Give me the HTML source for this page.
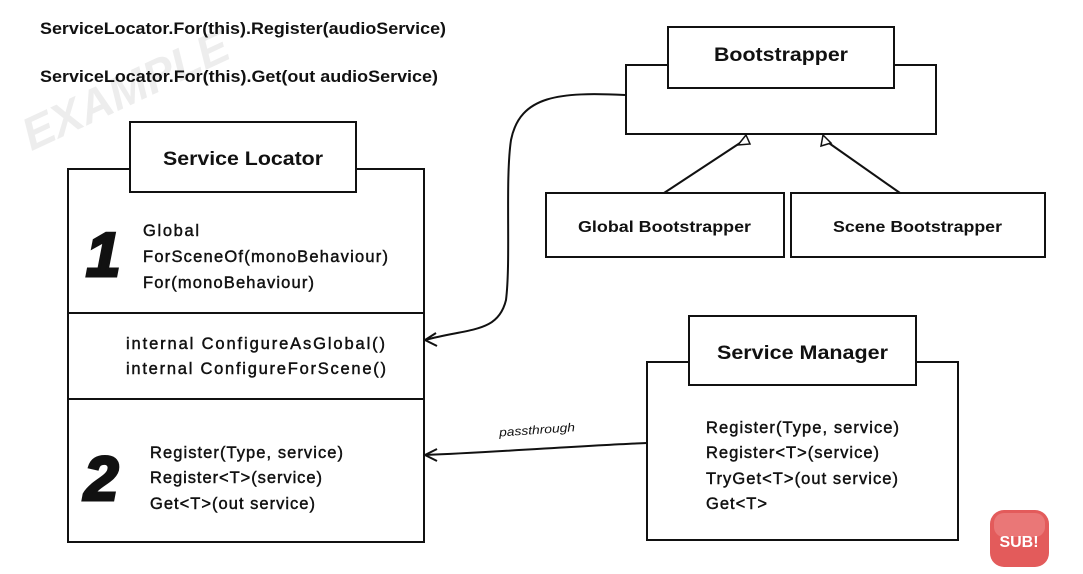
<!DOCTYPE html>
<html><head><meta charset="utf-8"><style>
html,body{margin:0;padding:0;background:#fff;width:1083px;height:574px;overflow:hidden}
svg{display:block}
text{font-family:"Liberation Sans",sans-serif;fill:#111}
.m{stroke:#111;stroke-width:0.45}
</style></head><body>
<svg width="1083" height="574" viewBox="0 0 1083 574" xmlns="http://www.w3.org/2000/svg">
<text x="10" y="125" font-size="46" font-weight="bold" font-style="italic" style="fill:#ededed" transform="rotate(-25 80 90)">EXAMPLE</text>
<text x="40" y="34" font-size="17" font-weight="bold" textLength="406" lengthAdjust="spacingAndGlyphs">ServiceLocator.For(this).Register(audioService)</text>
<text x="40" y="82" font-size="17" font-weight="bold" textLength="398" lengthAdjust="spacingAndGlyphs">ServiceLocator.For(this).Get(out audioService)</text>

<g fill="none" stroke="#111" stroke-width="2">
<rect x="68" y="169" width="356" height="373"/>
<line x1="68" y1="313" x2="424" y2="313"/>
<line x1="68" y1="399" x2="424" y2="399"/>
<rect x="130" y="122" width="226" height="70" fill="#fff"/>
<rect x="626" y="65" width="310" height="69"/>
<rect x="668" y="27" width="226" height="61" fill="#fff"/>
<rect x="546" y="193" width="238" height="64"/>
<rect x="791" y="193" width="254" height="64"/>
<rect x="647" y="362" width="311" height="178"/>
<rect x="689" y="316" width="227" height="69" fill="#fff"/>
<line x1="664" y1="193" x2="743" y2="141"/>
<line x1="900" y1="193" x2="826" y2="141"/>
<path d="M625,95 C560,92 520,95 511,140 C505,180 511,260 506,300 C498,333 470,328 425,340"/>
<path d="M436,333 L425,340 L437,346"/>
<path d="M647,443 C590,445 500,452 425,455"/>
<path d="M437,449 L425,455 L437,461"/>
</g>
<g fill="#fff" stroke="#111" stroke-width="1.5">
<path d="M746,135 L738,145 L750,144 Z"/>
<path d="M823,135 L821,146 L831,143 Z"/>
</g>

<g font-weight="bold">
<text x="163" y="165" font-size="19" textLength="160" lengthAdjust="spacingAndGlyphs">Service Locator</text>
<text x="714" y="61" font-size="19" textLength="134" lengthAdjust="spacingAndGlyphs">Bootstrapper</text>
<text x="578" y="232" font-size="16" textLength="173" lengthAdjust="spacingAndGlyphs">Global Bootstrapper</text>
<text x="833" y="232" font-size="16" textLength="169" lengthAdjust="spacingAndGlyphs">Scene Bootstrapper</text>
<text x="717" y="359" font-size="19" textLength="171" lengthAdjust="spacingAndGlyphs">Service Manager</text>
<text x="86" y="276" font-size="62" font-style="italic" class="m" style="stroke-width:3">1</text>
<text x="84" y="500" font-size="62" font-style="italic" class="m" style="stroke-width:3">2</text>
</g>
<g font-size="16.5" class="m" lengthAdjust="spacingAndGlyphs">
<text x="143" y="236" textLength="56">Global</text>
<text x="143" y="262" textLength="245">ForSceneOf(monoBehaviour)</text>
<text x="143" y="288" textLength="171">For(monoBehaviour)</text>
<text x="126" y="349" textLength="259">internal ConfigureAsGlobal()</text>
<text x="126" y="374" textLength="260">internal ConfigureForScene()</text>
<text x="150" y="458" textLength="193">Register(Type, service)</text>
<text x="150" y="483" textLength="172">Register&lt;T&gt;(service)</text>
<text x="150" y="509" textLength="165">Get&lt;T&gt;(out service)</text>
<text x="706" y="433" textLength="193">Register(Type, service)</text>
<text x="706" y="458" textLength="173">Register&lt;T&gt;(service)</text>
<text x="706" y="484" textLength="192">TryGet&lt;T&gt;(out service)</text>
<text x="706" y="509" textLength="61">Get&lt;T&gt;</text>
</g>
<text x="499" y="434" font-size="12" font-style="italic" textLength="76" lengthAdjust="spacingAndGlyphs" transform="rotate(-4 535 430)">passthrough</text>

<rect x="990" y="510" width="59" height="57" rx="14" fill="#e35b5b"/>
<rect x="994" y="513" width="51" height="24" rx="10" fill="#ee8a8a" opacity="0.6"/>
<text x="1019" y="547" font-size="16" font-weight="bold" text-anchor="middle" style="fill:#fff">SUB!</text>
</svg>
</body></html>
